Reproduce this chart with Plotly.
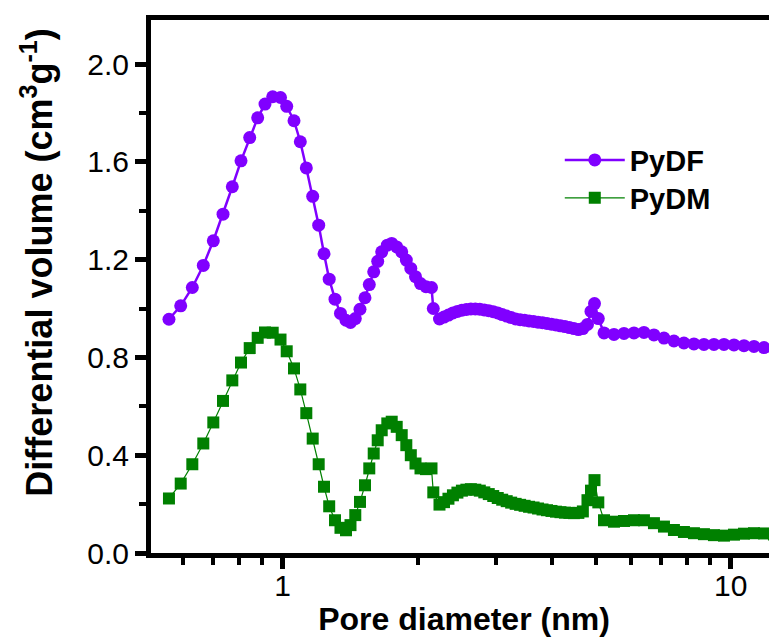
import plotly.graph_objects as go

# Pore diameter (nm) shared by both series
pore_nm = [
    0.5573, 0.5920, 0.6284, 0.6649, 0.7000, 0.7358, 0.7718, 0.8071, 0.8440, 0.8794,
    0.9130, 0.9499, 0.9888, 1.0208, 1.0598, 1.0947, 1.1290, 1.1667, 1.2032, 1.2366,
    1.2699, 1.3083, 1.3458, 1.3844, 1.4168, 1.4522, 1.4877, 1.5264, 1.5605, 1.5964,
    1.6296, 1.6634, 1.7120, 1.7512, 1.7968, 1.8436, 1.8876, 1.9318, 1.9790, 2.0305,
    2.0887, 2.1486, 2.1686,
    2.2387, 2.2909, 2.3442, 2.3988, 2.4547, 2.5119, 2.5704, 2.6303, 2.6915, 2.7542,
    2.8184, 2.8840, 2.9512, 3.0200, 3.0903, 3.1623, 3.2359, 3.3113, 3.3884, 3.4674,
    3.5481, 3.6308, 3.7154, 3.8019, 3.8905, 3.9811, 4.0738, 4.1687, 4.2658, 4.3652,
    4.4668, 4.5709, 4.6774,
    4.790, 4.877, 4.966, 5.064, 5.215,
    5.489, 5.779, 6.083, 6.403, 6.741, 7.097, 7.470, 7.864, 8.279, 8.716,
    9.176, 9.661, 10.171, 10.707, 11.272, 11.867, 12.493,
]

pydf = [
    0.956, 1.011, 1.086, 1.176, 1.277, 1.386, 1.498, 1.604, 1.699, 1.780,
    1.836, 1.866, 1.863, 1.827, 1.768, 1.682, 1.575, 1.459, 1.341, 1.224,
    1.120, 1.038, 0.980, 0.952, 0.943, 0.959, 0.997, 1.044, 1.098, 1.150,
    1.193, 1.232, 1.259, 1.266, 1.252, 1.232, 1.198, 1.164, 1.130, 1.102,
    1.089, 1.086, 1.000,
    0.957, 0.965, 0.973, 0.982, 0.988, 0.993, 0.996, 0.998, 0.998, 0.997,
    0.994, 0.991, 0.987, 0.982, 0.975, 0.969, 0.963, 0.957, 0.954, 0.952,
    0.949, 0.947, 0.944, 0.942, 0.939, 0.936, 0.933, 0.929, 0.926, 0.922,
    0.918, 0.914, 0.918,
    0.935, 0.988, 1.020, 0.959, 0.900,
    0.894, 0.898, 0.900, 0.902, 0.892, 0.879, 0.867, 0.859, 0.855, 0.853,
    0.853, 0.853, 0.851, 0.848, 0.845, 0.840, 0.834,
]

pydm = [
    0.223, 0.284, 0.363, 0.448, 0.534, 0.622, 0.706, 0.779, 0.838, 0.880,
    0.902, 0.901, 0.873, 0.825, 0.755, 0.669, 0.572, 0.468, 0.363, 0.271,
    0.191, 0.134, 0.103, 0.093, 0.114, 0.155, 0.209, 0.277, 0.346, 0.407,
    0.461, 0.502, 0.530, 0.537, 0.516, 0.482, 0.441, 0.400, 0.366, 0.346,
    0.343, 0.346, 0.248,
    0.198, 0.208, 0.222, 0.236, 0.247, 0.255, 0.259, 0.261, 0.259, 0.255,
    0.248, 0.241, 0.233, 0.225, 0.218, 0.212, 0.206, 0.201, 0.197, 0.193,
    0.189, 0.186, 0.182, 0.178, 0.175, 0.172, 0.169, 0.167, 0.165, 0.164,
    0.163, 0.164, 0.170,
    0.216, 0.255, 0.298, 0.207, 0.134,
    0.128, 0.131, 0.134, 0.134, 0.122, 0.108, 0.094, 0.086, 0.081, 0.077,
    0.073, 0.071, 0.075, 0.079, 0.081, 0.080, 0.076,
]

x_major = [1, 10]
x_minor = [0.5, 0.6, 0.7, 0.8, 0.9, 2, 3, 4, 5, 6, 7, 8, 9, 20]
y_ticks = [0.0, 0.4, 0.8, 1.2, 1.6, 2.0]

FONT = "Arial, Liberation Sans, sans-serif"
PURPLE = "#8000FF"
GREEN = "#008000"

fig = go.Figure()
fig.add_trace(go.Scatter(
    x=pore_nm, y=pydf, name="<b>PyDF</b>", mode="lines+markers",
    line=dict(color=PURPLE, width=2.5),
    marker=dict(symbol="circle", size=13, color=PURPLE, line=dict(width=0)),
    legend="legend",
))
fig.add_trace(go.Scatter(
    x=pore_nm, y=pydm, name="<b>PyDM</b>", mode="lines+markers",
    line=dict(color=GREEN, width=1.2),
    marker=dict(symbol="square", size=12, color=GREEN, line=dict(width=0)),
    legend="legend2",
))

legend_style = dict(
    xanchor="left", yanchor="top",
    bgcolor="rgba(0,0,0,0)", borderwidth=0,
    font=dict(family=FONT, size=29, color="black"),
    itemwidth=60,
)

# The page body has an 8 px margin, so the figure is offset by 8 px.
fig.update_layout(
    template="none",
    width=769, height=629,
    margin=dict(l=143, r=0, t=12, b=84, autoexpand=False),
    paper_bgcolor="white", plot_bgcolor="white",
    font=dict(family=FONT, color="black"),
    showlegend=True,
    legend=dict(x=0.653, y=0.785, **legend_style),
    legend2=dict(x=0.653, y=0.714, **legend_style),
    xaxis=dict(
        type="log", range=[-0.294, 1.1034], automargin=False,
        tickmode="array", tickvals=x_major, ticktext=["1", "10"],
        ticks="outside", ticklen=11, tickwidth=4.5, tickcolor="black",
        ticklabelstandoff=-9,
        minor=dict(tickmode="array", tickvals=x_minor, ticks="outside",
                   ticklen=7, tickwidth=4, tickcolor="black", showgrid=False),
        showline=True, linewidth=5, linecolor="black", mirror=True,
        showgrid=False, zeroline=False,
        tickfont=dict(family=FONT, size=30, color="black"),
        title=dict(text="<b>Pore diameter (nm)</b>", standoff=12,
                   font=dict(family=FONT, size=32, color="black")),
    ),
    yaxis=dict(
        range=[0, 2.18], automargin=False,
        tickmode="array", tickvals=y_ticks,
        ticktext=[f"{v:.1f}" for v in y_ticks],
        ticks="outside", ticklen=11, tickwidth=4.5, tickcolor="black",
        minor=dict(dtick=0.2, tick0=0, ticks="outside",
                   ticklen=7, tickwidth=4, tickcolor="black", showgrid=False),
        showline=True, linewidth=5, linecolor="black", mirror=False,
        showgrid=False, zeroline=False,
        tickfont=dict(family=FONT, size=30, color="black"),
    ),
    annotations=[dict(
        text="<b>Differential volume (cm<sup>3</sup>g<sup>-1</sup>)</b>",
        xref="paper", yref="paper", x=-0.1835, y=0.545,
        xanchor="center", yanchor="middle", textangle=-90, showarrow=False,
        font=dict(family=FONT, size=36, color="black"),
    )],
)

fig.write_html("out.html")
